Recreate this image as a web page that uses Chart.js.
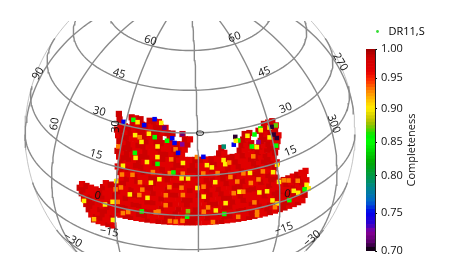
<!DOCTYPE html>
<html><head><meta charset="utf-8">
<script src="https://cdn.jsdelivr.net/npm/chart.js@4"></script>
<style>html,body{margin:0;padding:0;background:#fff;overflow:hidden}
#map{position:absolute;left:0;top:0}#bar{position:absolute;left:366px;top:0}</style>
</head><body>
<canvas id="map" width="457" height="273"></canvas>
<canvas id="bar" width="91" height="273"></canvas>
<script>
// ---- data ----
const seriesName = 'DR11,S';
const axisTitle = 'Completeness';
const rowDec = [-8.2,-6.4,-4.6,-2.8,-1,0.8,2.6,4.4,6.2,8,9.8,11.6,13.4,15.2,17,18.8,20.6,22.4,24.2,26,27.8,29.6,31.4,33.2];
const rowFirstRA = [39,40,41,42,43,44,45,44,35,34,29,28,29,30,29,30,31,30,31,32,33,32,33,34];
const rowStepRA = 2;
const rowCodes = [
 'rddrd','drrdd','rddrdr',
 'rrdrrdddrr ddrdrrdddr rdddrrddrd rrddrdrrdd rd',
 'drrddrdrrd drrdddrrdd rrdrddrrdd drrdrddrrd ddr',
 'rdrdddrdrr dddrrdddrd drrddrdddr rddrdrrddd rrd',
 'rrddrrddrd drrdddrddr ddrdrddrrd ddrrdddrdr rddr',
 'drddrddrdr dddrrddrdd rdddrrddrd rdddrdrrdd rdrd',
 'rddrddrrdd drdddrrddr ddrrdrdddr rdddrdrrd',
 'drrddrdddr ddrrdddrdr drddrdrrdd rddrrdrdd',
 'rrdddrrddr dddrddrdrd drrdddrdrr',
 'drdrddrddd rrddrdrddr ddrddrdrd',
 'rddrddrrdr ddrdddrrdr drdddrrddr',
 'drrddrdddr rdrddrdddr rddrddrdrr d',
 'rddrrdddrd rddrrddrdd rdrddrdrrd',
 'drrdrddrdd drrdrddrrd ddrddrrdrd r',
 'rdrddrrddr drdddrrdrd drrdrddrdr rd',
 'drrddrddrrdrd......rd..rddrrdrdd',
 'rdrdrrddrddrrd......r...rdr.rrdrd',
 'drrddrrdrrddrdr..........rd..rdrr',
 'rrdrdrrdrr.r..rd..........rr.rdrrd',
 'drrdrrdrrdrr.d................rdr',
 'r..rdrrdrrd',
 'r..rdr.rrd'
];
const codeValues = {r:0.985, d:0.965};
// individual sectors that stand out: RA, Dec, completeness
const oddRA = [22,15.5,23.5,15.2,19,28,5.6,-3.2,30,17,14,6,3.7,0.4,24.5,18,-1.8,43,31,34,31,39,-5,-10,-9.5,-19,-28,-30,-6,-14.6,-9.5,-6,-22,-25,-27,-30,-42,-43,-36,-38,-29,
 28,24,21,20,30,6,5.5,10.3,11.5,25,27,10,8,5.6,15,29,-1.8,-12.5,-19,-14,-22,-21,-24,-11.5,-3.3,-14,-5,-21,-21,-28,-34,-1.8,31,23,19.5,
 10.3,5.6,16.5,11.5,21,28,14,8.5,0.4,10,-7,-16.5,-22,-1.8,-11.6,-16,-20,-38,-32,
 3.7,24,15,9,20,4,-9,-34,-41,
 31,22,18,10,9,7.5,-2,-14,
 13.5,6,6,-15,-24,
 27,17,12,-16,-21,-23,-26,-10,-31,
 25,15,25,-15,-20,-23,-26,-30,-29,
 -33,-31,-31,-32];
const oddDec = [25.5,24.7,19.6,21,18.8,15.9,19.5,18.6,9.8,11.6,13.2,14,14,10.5,6,5.8,7.2,-1.9,1.6,-0.3,-5.8,-8.1,17.7,18.4,19.9,13.9,12.1,14.3,12.3,7.7,4.1,1.6,6,5.7,1.6,7.9,2.6,0.8,2.5,1,-0.2,
 12.7,13.4,11.2,8.6,6.7,10.6,7.9,10.6,3.7,-1,-1.9,-2.5,-2.6,-2.2,0.6,2.1,10.9,7.5,10.2,11.6,22.8,19.5,13.4,18.8,3,-2,-3,-2.7,-1.4,-1.4,7.2,1.4,22.2,27,28.7,
 15.7,15.7,15.5,7.5,6.4,7.9,1,24.2,21.6,20.6,15.5,14.2,10.9,15.7,13.6,7.5,2.6,5.7,7.9,
 1.7,21.3,18.6,16,0.2,-0.5,-0.1,-0.5,1.2,
 31,31.4,34,28,26.4,23,21.6,24.8,
 31.4,29.6,26,27.4,24,
 32.5,27.8,27,26,23,26.9,28.4,24.6,21,
 32,33,27.4,26,27,22.4,27.8,27.8,24.5,
 27.8,27.8,25,23.5];
const oddValues = [.9,.9,.9,.9,.9,.9,.9,.9,.9,.9,.9,.9,.9,.9,.9,.9,.9,.9,.9,.9,.9,.915,.9,.9,.9,.9,.9,.9,.9,.9,.9,.9,.9,.9,.9,.9,.9,.9,.9,.9,.9,
 .93,.93,.93,.93,.93,.93,.93,.93,.93,.93,.93,.93,.93,.93,.93,.93,.93,.93,.93,.93,.93,.93,.93,.93,.93,.93,.93,.93,.93,.93,.93,.93,.93,.93,.9,
 .93,.93,.93,.93,.93,.93,.93,.93,.93,.93,.93,.93,.93,.93,.93,.93,.93,.93,.93,
 .875,.85,.85,.85,.85,.85,.85,.85,.85,
 .75,.75,.75,.75,.75,.75,.75,.75,
 .715,.715,.725,.705,.725,
 .85,.85,.85,.85,.85,.85,.85,.79,.85,
 .9,.9,.9,.9,.9,.9,.9,.9,.9,
 .87,.705,.705,.705];
const raGrid = [0,30,60,90,120,150,180,210,240,270,300,330];
const decGrid = [60,45,30,15,0,-15,-30];
const tickValues = [0.70,0.75,0.80,0.85,0.90,0.95,1.00];
const tickFractions = [0,0.1881,0.3713,0.5396,0.7030,0.8564,1];
const cmapValues = [0.70,0.71,0.725,0.735,0.75,0.765,0.785,0.80,0.82,0.85,0.86,0.875,0.885,0.90,0.91,0.93,0.945,0.96,0.985,1.00];
const cmapColors = ['#000000','#550066','#880099','#3000cc','#0000ee','#0066cc','#008888','#009944','#00aa00','#00ff00','#00ee00','#90c000','#c8c800','#ffee00','#ffd000','#ff8000','#ff3000','#e60000','#cc0000','#9a0000'];
const mapLabels = ['60','60','45','45','30','30','15','15','0','0','\u221215','\u221215','\u221230','\u221230','0','30','60','90','300','270'];
const labelU = [-.24,.27,-.43,.45,-.55,.58,-.57,.61,-.56,.59,-.49,.57,-.71,.74,.067,-.45,-.82,-.92,.87,.91];
const labelV = [.56,.58,.36,.37,.13,.15,-.13,-.11,-.38,-.37,-.6,-.58,-.65,-.64,0,.04,.055,.36,.055,.43];
const labelAngle = [15,-20,15,-20,15,-22,15,-22,10,10,10,-20,30,-40,-90,-90,-80,-60,70,60];

// ---- orthographic view ----
const viewRA = 3, viewDec = 30;
const rad = Math.PI/180;
function project(ra,dec){
  const d=(ra-viewRA)*rad, a=dec*rad, c=viewDec*rad;
  const z=Math.sin(a)*Math.sin(c)+Math.cos(a)*Math.cos(c)*Math.cos(d);
  return {x:-Math.cos(a)*Math.sin(d), y:Math.cos(c)*Math.sin(a)-Math.sin(c)*Math.cos(a)*Math.cos(d), z};
}
function lineThrough(pairs){
  const out=[];
  pairs.forEach(list=>{ list.forEach(([r,d])=>{const p=project(r,d); out.push(p.z>=0?{x:p.x,y:p.y}:{x:null,y:null});}); out.push({x:null,y:null}); });
  return out;
}
const sweep=[]; for(let t=-90;t<=90;t+=2) sweep.push(t);
const sweepRA=[]; for(let t=0;t<=360;t+=2) sweepRA.push(t);
const meridians=lineThrough(raGrid.map(r=>sweep.map(d=>[r,d])));
const parallels=lineThrough(decGrid.map(d=>sweepRA.map(r=>[r,d])));
const limb=sweepRA.map(t=>({x:Math.cos(t*rad),y:Math.sin(t*rad)}));

function colorOf(v){
  for(let i=cmapValues.length-1;i>0;i--){ if(v>=cmapValues[i-1]-1e-9){
    const f=(v-cmapValues[i-1])/(cmapValues[i]-cmapValues[i-1]);
    const h=s=>[1,3,5].map(n=>parseInt(s.substr(n,2),16));
    const a=h(cmapColors[i-1]),b=h(cmapColors[i]);
    return 'rgb('+a.map((x,j)=>Math.round(x+(b[j]-x)*f)).join(',')+')';
  }}
  return cmapColors[0];
}
const baseCells=[];
rowCodes.forEach((row,k)=>{ row.replace(/ /g,'').split('').forEach((c,j)=>{ if(c==='.')return;
  const p=project(rowFirstRA[k]-rowStepRA*j,rowDec[k]); baseCells.push({x:p.x,y:p.y,c:codeValues[c]}); });});
const oddCells=oddRA.map((r,i)=>{const p=project(r,oddDec[i]);return {x:p.x,y:p.y,c:oddValues[i]};});

const gridStyle={type:'scatter',showLine:true,pointRadius:0,borderColor:'#8a8a8a',borderWidth:1.4,tension:0,fill:false,order:0};
const labelPlugin={id:'mapLabels',afterDatasetsDraw(ch){
  const c=ch.ctx; c.save(); c.font='11px "Open Sans"'; c.fillStyle='#111'; c.textAlign='center'; c.textBaseline='middle';
  mapLabels.forEach((t,i)=>{ c.save(); c.translate(ch.scales.x.getPixelForValue(labelU[i]),ch.scales.y.getPixelForValue(labelV[i])); c.rotate(labelAngle[i]*rad); c.fillText(t,0,0); c.restore(); });
  c.restore();
}};
new Chart(document.getElementById('map'),{
  type:'scatter',
  data:{datasets:[
    {...gridStyle,label:'meridians',data:meridians},
    {...gridStyle,label:'parallels',data:parallels},
    {...gridStyle,label:'limb',data:limb,borderColor:'#b5b5b5',borderWidth:0.8},
    {label:'sectors',data:oddCells,order:1,pointStyle:'rect',borderWidth:0,pointRadius:3.2,
      backgroundColor:ctx=>colorOf(ctx.raw?ctx.raw.c:0.96)},
    {label:seriesName,data:baseCells,order:2,pointStyle:'rect',borderWidth:0,pointRadius:4.4,
      backgroundColor:ctx=>colorOf(ctx.raw?ctx.raw.c:0.96)}
  ]},
  options:{responsive:false,animation:false,devicePixelRatio:1,
    layout:{padding:{left:24,right:101,top:21,bottom:21}},
    plugins:{legend:{display:false},tooltip:{enabled:false}},
    scales:{x:{display:false,min:-1.006,max:1.006},y:{display:false,min:-0.7212,max:0.6788}}},
  plugins:[labelPlugin]
});

// ---- colour bar ----
class PiecewiseScale extends Chart.LinearScale{
  fractionOf(v){
    for(let i=1;i<tickValues.length;i++){ if(v<=tickValues[i]||i===tickValues.length-1){
      const f=(v-tickValues[i-1])/(tickValues[i]-tickValues[i-1]);
      return tickFractions[i-1]+f*(tickFractions[i]-tickFractions[i-1]);
    }}
  }
  getPixelForValue(v){return this.getPixelForDecimal(this.fractionOf(v));}
}
PiecewiseScale.id='piecewise'; PiecewiseScale.defaults=Chart.LinearScale.defaults;
Chart.register(PiecewiseScale);
const bandEdges=[]; for(let i=0;i<=60;i++) bandEdges.push(0.70+i*0.005);
const bandSets=bandEdges.slice(0,-1).map((lo,i)=>({data:[[lo,bandEdges[i+1]]],backgroundColor:colorOf(lo+0.0025),borderWidth:0,borderSkipped:false}));
bandSets.push({data:[[0.70,1.00]],backgroundColor:'rgba(0,0,0,0)',borderColor:'#222',borderWidth:1,borderSkipped:false});
const titlePlugin={id:'barTitle',afterDraw(ch){
  const c=ch.ctx; c.save(); c.font='11px "Open Sans"'; c.fillStyle='#111'; c.textAlign='center'; c.textBaseline='middle';
  c.translate(ch.chartArea.right+37,(ch.chartArea.top+ch.chartArea.bottom)/2); c.rotate(-Math.PI/2); c.fillText(axisTitle,0,0); c.restore();
}};
new Chart(document.getElementById('bar'),{
  type:'bar',
  data:{labels:[''],datasets:bandSets},
  options:{responsive:false,animation:false,devicePixelRatio:1,
    datasets:{bar:{grouped:false,barPercentage:1,categoryPercentage:1}},
    layout:{padding:{left:0,right:0,top:20,bottom:22}},
    plugins:{tooltip:{enabled:false},
      legend:{display:true,position:'top',align:'start',
        labels:{padding:6,usePointStyle:true,boxHeight:2,font:{family:'"Open Sans"',size:11},color:'#111',
          generateLabels:()=>[{text:seriesName,fillStyle:'#33dd33',strokeStyle:'#33dd33',lineWidth:0,pointStyle:'circle',datasetIndex:0}]}}},
    scales:{
      x:{position:'top',grid:{display:false},border:{display:false},ticks:{display:false},afterFit:s=>{s.height=2;}},
      y:{type:'piecewise',position:'right',min:0.70,max:1.00,
        afterBuildTicks:s=>{s.ticks=tickValues.map(value=>({value}));},
        afterFit:s=>{s.width=82;},
        grid:{drawOnChartArea:false,tickLength:2,color:'#000'},border:{color:'#222'},
        ticks:{padding:4,autoSkip:false,color:'#111',font:{family:'"Open Sans"',size:11},callback:v=>Number(v).toFixed(2)}}
    }},
  plugins:[titlePlugin]
});
</script>
</body></html>
